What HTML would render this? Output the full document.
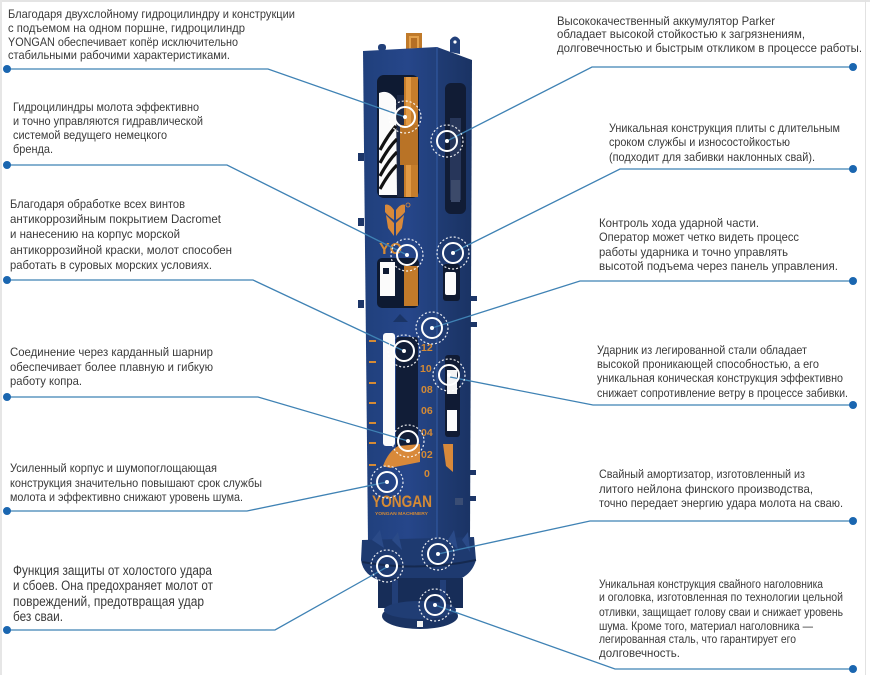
<!DOCTYPE html>
<html>
<head>
<meta charset="utf-8">
<style>
  html,body{margin:0;padding:0;background:#fff;}
  svg{display:block;}
  .t{font-family:"Liberation Sans","DejaVu Sans",sans-serif;font-size:12px;fill:#3a3a3a;}
  .tb{font-family:"Liberation Sans","DejaVu Sans",sans-serif;font-size:13.5px;fill:#3a3a3a;}
  .ts{font-family:"Liberation Sans","DejaVu Sans",sans-serif;font-size:11.5px;fill:#3a3a3a;}
  .or{font-family:"Liberation Sans","DejaVu Sans",sans-serif;fill:#d48a35;font-weight:bold;}
</style>
</head>
<body>
<svg width="870" height="675" viewBox="0 0 870 675" xmlns="http://www.w3.org/2000/svg">
  <defs>
    <linearGradient id="front" x1="0" y1="0" x2="1" y2="0">
      <stop offset="0" stop-color="#20407c"/>
      <stop offset="0.6" stop-color="#26468a"/>
      <stop offset="1" stop-color="#213f7a"/>
    </linearGradient>
    <linearGradient id="side" x1="0" y1="0" x2="1" y2="0">
      <stop offset="0" stop-color="#203c74"/>
      <stop offset="1" stop-color="#1a3364"/>
    </linearGradient>
  </defs>
  <rect width="870" height="675" fill="#fff"/>
  <!-- frame edges -->
  <rect x="0" y="0" width="870" height="2" fill="#e4e4e4"/>
  <rect x="0" y="0" width="2" height="675" fill="#e6e6e6"/>
  <rect x="865" y="0" width="1" height="675" fill="#e2e2e2"/>

  <!-- ================= HAMMER ================= -->
  <rect x="406" y="33" width="16" height="17" fill="#c07a2a"/>
  <rect x="409" y="36" width="10" height="13" fill="#e3a14c"/>
  <rect x="411" y="38" width="6" height="10" fill="#b56f25"/>
  <path d="M450 52 L450 40 Q455 33 460 40 L460 54 Z" fill="#22407a"/>
  <circle cx="455" cy="42" r="1.6" fill="#fff"/>
  <rect x="378" y="44" width="8" height="7" rx="3" fill="#22407a"/>
  <polygon points="363,51 437,47 437,542 368,542" fill="url(#front)"/>
  <polygon points="437,47 472,60 470,540 437,542" fill="url(#side)"/>
  <line x1="437" y1="47" x2="437" y2="542" stroke="#3158a0" stroke-width="1.2"/>
  <rect x="358" y="153" width="6" height="8" fill="#1d3668"/>
  <rect x="358" y="218" width="6" height="8" fill="#1d3668"/>
  <rect x="358" y="300" width="6" height="8" fill="#1d3668"/>
  <rect x="470" y="296" width="7" height="5" fill="#1d3668"/>
  <rect x="470" y="322" width="7" height="5" fill="#1d3668"/>
  <rect x="470" y="470" width="6" height="5" fill="#1d3668"/>
  <rect x="470" y="496" width="6" height="5" fill="#1d3668"/>

  <rect x="377" y="75" width="42" height="123" rx="7" fill="#0e1a32"/>
  <path d="M379 93 Q389 89 396 100 L397 195 L379 195 Z" fill="#fbfbfb"/>
  <g stroke="#111" stroke-width="3.2" fill="none">
    <path d="M380 150 Q388 135 396 126"/>
    <path d="M380 163 Q388 148 397 139"/>
    <path d="M380 176 Q388 161 397 152"/>
    <path d="M380 189 Q388 174 397 165"/>
  </g>
  <rect x="397" y="95" width="7" height="102" fill="#1b2846"/>
  <rect x="404" y="77" width="14" height="120" fill="#c67d2b"/>
  <rect x="406" y="77" width="5" height="120" fill="#e29a44"/>
  <rect x="400" y="125" width="18" height="40" fill="#b97326"/>
  <rect x="445" y="83" width="21" height="131" rx="6" fill="#111c35"/>
  <rect x="450" y="118" width="11" height="82" fill="#27365a"/>
  <rect x="451" y="180" width="9" height="22" fill="#3c4a6a"/>

  <g fill="#d8893a">
    <path d="M385 205 Q389 203 394 210 L394 220 Q388 216 385 212 Z"/>
    <path d="M405 205 Q401 203 396 210 L396 220 Q402 216 405 212 Z"/>
    <path d="M386 215 L394 223 L394 236 L388 228 Z"/>
    <path d="M404 215 L396 223 L396 236 L402 228 Z"/>
  </g>
  <circle cx="408" cy="205" r="2" fill="none" stroke="#d8893a" stroke-width="0.8"/>
  <text x="379" y="254" class="or" font-size="16">YO</text>

  <rect x="377" y="258" width="42" height="50" rx="5" fill="#0e1a32"/>
  <path d="M380 262 L395 262 L395 296 L380 296 Z" fill="#fbfbfb"/>
  <rect x="383" y="268" width="6" height="6" fill="#0e1a32"/>
  <rect x="404" y="266" width="14" height="40" fill="#c27a2a"/>
  <rect x="443" y="264" width="17" height="37" rx="3" fill="#0f1a31"/>
  <rect x="445" y="272" width="11" height="23" rx="2" fill="#fbfbfb"/>

  <path d="M393 322 L400 314 L408 322 Z" fill="#1a3466"/>
  <rect x="383" y="333" width="12" height="113" rx="3" fill="#fbfbfb"/>
  <rect x="396" y="337" width="22" height="112" rx="3" fill="#111d37"/>
  <g fill="#d48a35">
    <rect x="369" y="340" width="7" height="2"/>
    <rect x="369" y="361" width="7" height="2"/>
    <rect x="369" y="382" width="7" height="2"/>
    <rect x="369" y="402" width="7" height="2"/>
    <rect x="369" y="422" width="7" height="2"/>
    <rect x="369" y="442" width="7" height="2"/>
    <rect x="369" y="464" width="7" height="2"/>
  </g>
  <g>
    <text x="421" y="351" class="or" font-size="10.5">12</text>
    <text x="420" y="372" class="or" font-size="10.5">10</text>
    <text x="421" y="393" class="or" font-size="10.5">08</text>
    <text x="421" y="414" class="or" font-size="10.5">06</text>
    <text x="421" y="436" class="or" font-size="10.5">04</text>
    <text x="421" y="458" class="or" font-size="10.5">02</text>
    <text x="424" y="477" class="or" font-size="10.5">0</text>
  </g>
  <rect x="445" y="355" width="15" height="82" rx="3" fill="#101b34"/>
  <rect x="447" y="370" width="10" height="24" fill="#f4f4f4"/>
  <rect x="447" y="410" width="10" height="21" fill="#fbfbfb"/>

  <path d="M383 466 Q388 452 398 446 L420 444 L420 462 L390 468 Z" fill="#d8893a"/>
  <path d="M443 444 L453 444 L453 472 L446 466 Z" fill="#d8893a"/>

  <text x="372" y="507" class="or" font-size="17" textLength="60" lengthAdjust="spacingAndGlyphs">YONGAN</text>
  <text x="375" y="515" class="or" font-size="4.5" font-weight="normal" textLength="53" lengthAdjust="spacingAndGlyphs">YONGAN MACHINERY</text>
  <rect x="455" y="498" width="8" height="7" fill="#3a4d74"/>

  <path d="M362 540 L474 537 L476 560 Q470 582 440 583 L395 583 Q364 581 361 560 Z" fill="#1e3a70"/>
  <g fill="#2a4a88">
    <path d="M372 540 L380 530 L384 548 Z"/>
    <path d="M392 540 L398 532 L402 550 Z"/>
    <path d="M448 540 L454 530 L458 550 Z"/>
    <path d="M462 540 L468 532 L470 552 Z"/>
  </g>
  <path d="M362 562 Q420 572 476 560" stroke="#15294f" stroke-width="2" fill="none"/>
  <rect x="378" y="578" width="85" height="30" fill="#172d58"/>
  <rect x="392" y="580" width="6" height="25" fill="#223f78"/>
  <rect x="440" y="580" width="6" height="25" fill="#223f78"/>
  <ellipse cx="420" cy="616" rx="38" ry="13" fill="#1a3363"/>
  <ellipse cx="420" cy="610" rx="36" ry="9" fill="#203d74"/>
  <rect x="417" y="621" width="6" height="6" fill="#f2f2f2"/>

  <!-- ================= CONNECTORS ================= -->
  <g stroke="#3f82b4" stroke-width="1.3" fill="none">
    <polyline points="7,69 268,69 405,117"/>
    <polyline points="7,165 227,165 407,255"/>
    <polyline points="7,280 253,280 404,351"/>
    <polyline points="7,397 258,397 408,441"/>
    <polyline points="7,511 247,511 387,482"/>
    <polyline points="7,630 275,630 387,567"/>
    <polyline points="853,67 592,67 447,141"/>
    <polyline points="853,169 620,169 452,253"/>
    <polyline points="853,281 580,281 432,328"/>
    <polyline points="853,405 593,405 450,377"/>
    <polyline points="853,521 590,521 438,554"/>
    <polyline points="853,669 615,669 435,605"/>
  </g>
  <g fill="#1a66b0">
    <circle cx="7" cy="69" r="4"/>
    <circle cx="7" cy="165" r="4"/>
    <circle cx="7" cy="280" r="4"/>
    <circle cx="7" cy="397" r="4"/>
    <circle cx="7" cy="511" r="4"/>
    <circle cx="7" cy="630" r="4"/>
    <circle cx="853" cy="67" r="4"/>
    <circle cx="853" cy="169" r="4"/>
    <circle cx="853" cy="281" r="4"/>
    <circle cx="853" cy="405" r="4"/>
    <circle cx="853" cy="521" r="4"/>
    <circle cx="853" cy="669" r="4"/>
  </g>

  <!-- ================= MARKERS ================= -->
  <g fill="none" stroke="#fff">
    <g transform="translate(405,117)"><circle r="16" stroke-width="1.2" stroke-dasharray="2 2" opacity="0.9"/><circle r="10" stroke-width="2"/><circle r="2" fill="#fff" stroke="none"/></g>
    <g transform="translate(447,141)"><circle r="16" stroke-width="1.2" stroke-dasharray="2 2" opacity="0.9"/><circle r="10" stroke-width="2"/><circle r="2" fill="#fff" stroke="none"/></g>
    <g transform="translate(407,255)"><circle r="16" stroke-width="1.2" stroke-dasharray="2 2" opacity="0.9"/><circle r="10" stroke-width="2"/><circle r="2" fill="#fff" stroke="none"/></g>
    <g transform="translate(453,253)"><circle r="16" stroke-width="1.2" stroke-dasharray="2 2" opacity="0.9"/><circle r="10" stroke-width="2"/><circle r="2" fill="#fff" stroke="none"/></g>
    <g transform="translate(432,328)"><circle r="16" stroke-width="1.2" stroke-dasharray="2 2" opacity="0.9"/><circle r="10" stroke-width="2"/><circle r="2" fill="#fff" stroke="none"/></g>
    <g transform="translate(404,351)"><circle r="16" stroke-width="1.2" stroke-dasharray="2 2" opacity="0.9"/><circle r="10" stroke-width="2"/><circle r="2" fill="#fff" stroke="none"/></g>
    <g transform="translate(449,375)"><circle r="16" stroke-width="1.2" stroke-dasharray="2 2" opacity="0.9"/><circle r="10" stroke-width="2"/><circle r="2" fill="#fff" stroke="none"/></g>
    <g transform="translate(408,441)"><circle r="16" stroke-width="1.2" stroke-dasharray="2 2" opacity="0.9"/><circle r="10" stroke-width="2"/><circle r="2" fill="#fff" stroke="none"/></g>
    <g transform="translate(387,482)"><circle r="16" stroke-width="1.2" stroke-dasharray="2 2" opacity="0.9"/><circle r="10" stroke-width="2"/><circle r="2" fill="#fff" stroke="none"/></g>
    <g transform="translate(438,554)"><circle r="16" stroke-width="1.2" stroke-dasharray="2 2" opacity="0.9"/><circle r="10" stroke-width="2"/><circle r="2" fill="#fff" stroke="none"/></g>
    <g transform="translate(387,566)"><circle r="16" stroke-width="1.2" stroke-dasharray="2 2" opacity="0.9"/><circle r="10" stroke-width="2"/><circle r="2" fill="#fff" stroke="none"/></g>
    <g transform="translate(435,605)"><circle r="16" stroke-width="1.2" stroke-dasharray="2 2" opacity="0.9"/><circle r="10" stroke-width="2"/><circle r="2" fill="#fff" stroke="none"/></g>
  </g>

  <!-- ================= LEFT TEXT ================= -->
  <g class="t">
    <text x="8" y="18" textLength="287" lengthAdjust="spacingAndGlyphs">Благодаря двухслойному гидроцилиндру и конструкции</text>
    <text x="8" y="32" textLength="237" lengthAdjust="spacingAndGlyphs">с подъемом на одном поршне, гидроцилиндр</text>
    <text x="8" y="46" textLength="230" lengthAdjust="spacingAndGlyphs">YONGAN обеспечивает копёр исключительно</text>
    <text x="8" y="59" textLength="222" lengthAdjust="spacingAndGlyphs">стабильными рабочими характеристиками.</text>

    <text x="13" y="111" textLength="186" lengthAdjust="spacingAndGlyphs">Гидроцилиндры молота эффективно</text>
    <text x="13" y="125" textLength="190" lengthAdjust="spacingAndGlyphs">и точно управляются гидравлической</text>
    <text x="13" y="139" textLength="154" lengthAdjust="spacingAndGlyphs">системой ведущего немецкого</text>
    <text x="13" y="153" textLength="40" lengthAdjust="spacingAndGlyphs">бренда.</text>

    <text x="10" y="208" textLength="175" lengthAdjust="spacingAndGlyphs">Благодаря обработке всех винтов</text>
    <text x="10" y="223" textLength="211" lengthAdjust="spacingAndGlyphs">антикоррозийным покрытием Dacromet</text>
    <text x="10" y="238" textLength="170" lengthAdjust="spacingAndGlyphs">и нанесению на корпус морской</text>
    <text x="10" y="254" textLength="222" lengthAdjust="spacingAndGlyphs">антикоррозийной краски, молот способен</text>
    <text x="10" y="269" textLength="202" lengthAdjust="spacingAndGlyphs">работать в суровых морских условиях.</text>

    <text x="10" y="356" textLength="203" lengthAdjust="spacingAndGlyphs">Соединение через карданный шарнир</text>
    <text x="10" y="371" textLength="203" lengthAdjust="spacingAndGlyphs">обеспечивает более плавную и гибкую</text>
    <text x="10" y="385" textLength="72" lengthAdjust="spacingAndGlyphs">работу копра.</text>

    <text x="10" y="472" textLength="207" lengthAdjust="spacingAndGlyphs">Усиленный корпус и шумопоглощающая</text>
    <text x="10" y="487" textLength="252" lengthAdjust="spacingAndGlyphs">конструкция значительно повышают срок службы</text>
    <text x="10" y="501" textLength="233" lengthAdjust="spacingAndGlyphs">молота и эффективно снижают уровень шума.</text>
  </g>
  <g class="tb">
    <text x="13" y="575" textLength="199" lengthAdjust="spacingAndGlyphs">Функция защиты от холостого удара</text>
    <text x="13" y="590" textLength="200" lengthAdjust="spacingAndGlyphs">и сбоев. Она предохраняет молот от</text>
    <text x="13" y="606" textLength="191" lengthAdjust="spacingAndGlyphs">повреждений, предотвращая удар</text>
    <text x="13" y="621" textLength="50" lengthAdjust="spacingAndGlyphs">без сваи.</text>
  </g>

  <!-- ================= RIGHT TEXT ================= -->
  <g class="t">
    <text x="557" y="25" textLength="218" lengthAdjust="spacingAndGlyphs">Высококачественный аккумулятор Parker</text>
    <text x="557" y="38" textLength="248" lengthAdjust="spacingAndGlyphs">обладает высокой стойкостью к загрязнениям,</text>
    <text x="557" y="52" textLength="305" lengthAdjust="spacingAndGlyphs">долговечностью и быстрым откликом в процессе работы.</text>

    <text x="609" y="132" textLength="231" lengthAdjust="spacingAndGlyphs">Уникальная конструкция плиты с длительным</text>
    <text x="609" y="146" textLength="181" lengthAdjust="spacingAndGlyphs">сроком службы и износостойкостью</text>
    <text x="609" y="161" textLength="206" lengthAdjust="spacingAndGlyphs">(подходит для забивки наклонных свай).</text>

    <text x="599" y="227" textLength="160" lengthAdjust="spacingAndGlyphs">Контроль хода ударной части.</text>
    <text x="599" y="241" textLength="200" lengthAdjust="spacingAndGlyphs">Оператор может четко видеть процесс</text>
    <text x="599" y="256" textLength="189" lengthAdjust="spacingAndGlyphs">работы ударника и точно управлять</text>
    <text x="599" y="270" textLength="239" lengthAdjust="spacingAndGlyphs">высотой подъема через панель управления.</text>

    <text x="597" y="354" textLength="210" lengthAdjust="spacingAndGlyphs">Ударник из легированной стали обладает</text>
    <text x="597" y="368" textLength="222" lengthAdjust="spacingAndGlyphs">высокой проникающей способностью, а его</text>
    <text x="597" y="382" textLength="246" lengthAdjust="spacingAndGlyphs">уникальная коническая конструкция эффективно</text>
    <text x="597" y="397" textLength="251" lengthAdjust="spacingAndGlyphs">снижает сопротивление ветру в процессе забивки.</text>

    <text x="599" y="478" textLength="206" lengthAdjust="spacingAndGlyphs">Свайный амортизатор, изготовленный из</text>
    <text x="599" y="493" textLength="214" lengthAdjust="spacingAndGlyphs">литого нейлона финского производства,</text>
    <text x="599" y="507" textLength="244" lengthAdjust="spacingAndGlyphs">точно передает энергию удара молота на сваю.</text>
  </g>
  <g class="ts">
    <text x="599" y="588" textLength="224" lengthAdjust="spacingAndGlyphs">Уникальная конструкция свайного наголовника</text>
    <text x="599" y="601" textLength="244" lengthAdjust="spacingAndGlyphs">и оголовка, изготовленная по технологии цельной</text>
    <text x="599" y="616" textLength="244" lengthAdjust="spacingAndGlyphs">отливки, защищает голову сваи и снижает уровень</text>
    <text x="599" y="630" textLength="214" lengthAdjust="spacingAndGlyphs">шума. Кроме того, материал наголовника —</text>
    <text x="599" y="643" textLength="197" lengthAdjust="spacingAndGlyphs">легированная сталь, что гарантирует его</text>
    <text x="599" y="657" textLength="81" lengthAdjust="spacingAndGlyphs">долговечность.</text>
  </g>
</svg>
</body>
</html>
